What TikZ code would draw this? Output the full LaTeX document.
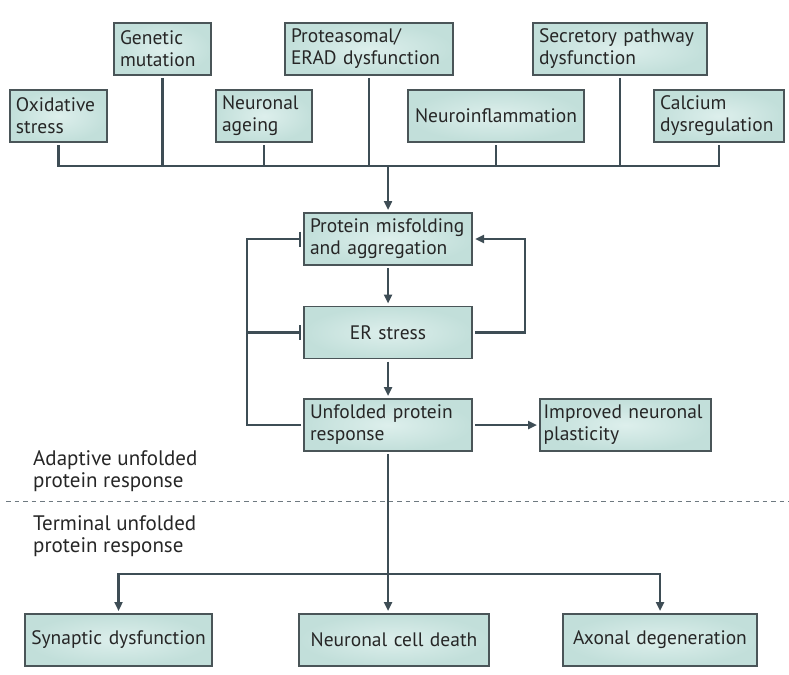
\documentclass[tikz,border=0pt]{standalone}
\usepackage{fontspec}
\setmainfont{PT Sans}
\usetikzlibrary{arrows.meta,calc}
\hyphenpenalty=10000
\definecolor{boxin}{HTML}{DDEFEC}
\definecolor{boxout}{HTML}{C2DFDA}
\definecolor{boxline}{HTML}{4A5558}
\definecolor{conncol}{HTML}{3E4D55}
\definecolor{txt}{HTML}{262626}
\begin{document}
\begin{tikzpicture}[x=1pt,y=-1pt,
  box/.style={draw=boxline, line width=1.1pt, inner color=boxin, outer color=boxout,
    minimum height=52pt, inner xsep=6pt, inner ysep=3pt, outer sep=3pt, align=left,
    text=txt, font=\fontsize{19.5}{22}\selectfont},
  conn/.style={draw=conncol, line width=2.4pt, line join=miter},
  arr/.style={conn, -{Triangle[length=9pt,width=8pt]}},
  inh/.style={conn, -{Bar[width=15pt]}},
  lab/.style={anchor=north west, inner sep=0pt, align=left, text=txt,
    font=\fontsize{21}{22}\selectfont}
]
\useasboundingbox (0,0) rectangle (789,674);
% top causes
\node[box, minimum width=97pt, text width=85pt] (ox) at (58.5,116) {Oxidative\\stress};
\node[box, minimum width=97pt, text width=85pt] (gen) at (162.5,49) {Genetic\\mutation};
\node[box, minimum width=96pt, text width=84pt] (age) at (264,116) {Neuronal\\ageing};
\node[box, minimum width=168pt, text width=156pt] (prot) at (369,49) {Proteasomal/\\ERAD dysfunction};
\node[box, minimum width=176pt, text width=164pt, align=center] (infl) at (496,116) {Neuroinflammation};
\node[box, minimum width=174pt, text width=162pt] (sec) at (620,49) {Secretory pathway\\dysfunction};
\node[box, minimum width=130pt, text width=118pt] (cal) at (719,116) {Calcium\\dysregulation};
% central column
\node[box, minimum width=168pt, text width=156pt] (mis) at (388,239) {Protein misfolding\\and aggregation};
\node[box, minimum width=168pt, text width=156pt, align=center] (er) at (388,332.5) {ER stress};
\node[box, minimum width=168pt, text width=156pt] (upr) at (388,425) {Unfolded protein\\response};
\node[box, minimum width=171pt, text width=164pt, inner xsep=3.5pt] (imp) at (625.5,425) {Improved neuronal\\plasticity};
% outcomes
\node[box, minimum width=187pt, text width=175pt, align=center] (syn) at (118.5,640) {Synaptic dysfunction};
\node[box, minimum width=190pt, text width=178pt, align=center] (death) at (394,640) {Neuronal cell death};
\node[box, minimum width=194pt, text width=182pt, align=center] (axo) at (660,640) {Axonal degeneration};
% labels
\node[lab] (adapt) at (33,450) {Adaptive unfolded\\protein response};
\node[lab] (term) at (33,515) {Terminal unfolded\\protein response};
% coordinates
\coordinate (busy) at (0,166);
\coordinate (boty) at (0,574);
\coordinate (lx) at (247,0);
\coordinate (dashL) at (6,501);
\coordinate (dashR) at (789,501);
% top bus
\draw[conn] (ox.south) -- (ox.south |- busy) -- (cal.south |- busy) -- (cal.south);
\draw[conn] (gen.south) -- (gen.south |- busy);
\draw[conn] (age.south) -- (age.south |- busy);
\draw[conn] (prot.south) -- (prot.south |- busy);
\draw[conn] (infl.south) -- (infl.south |- busy);
\draw[conn] (sec.south) -- (sec.south |- busy);
\draw[arr] (mis.north |- busy) -- (mis.north);
% central arrows
\draw[arr] (mis.south) -- (er.north);
\draw[arr] (er.south) -- (upr.north);
\draw[arr] (er.east) -- ++(50,0) |- (mis.east);
\draw[inh] (upr.west) -- (upr.west -| lx) |- (mis.west);
\draw[inh] (er.west -| lx) -- (er.west);
\draw[arr] (upr.east) -- (imp.west);
% dashed separator
\draw[draw=conncol!75, line width=0.9pt, dash pattern=on 4.5pt off 4pt] (dashL) -- (dashR);
% bottom
\draw[arr] (upr.south) -- (upr.south |- death.north);
\draw[arr] (upr.south |- boty) -| (syn.north);
\draw[arr] (upr.south |- boty) -| (axo.north);
\end{tikzpicture}
\end{document}
